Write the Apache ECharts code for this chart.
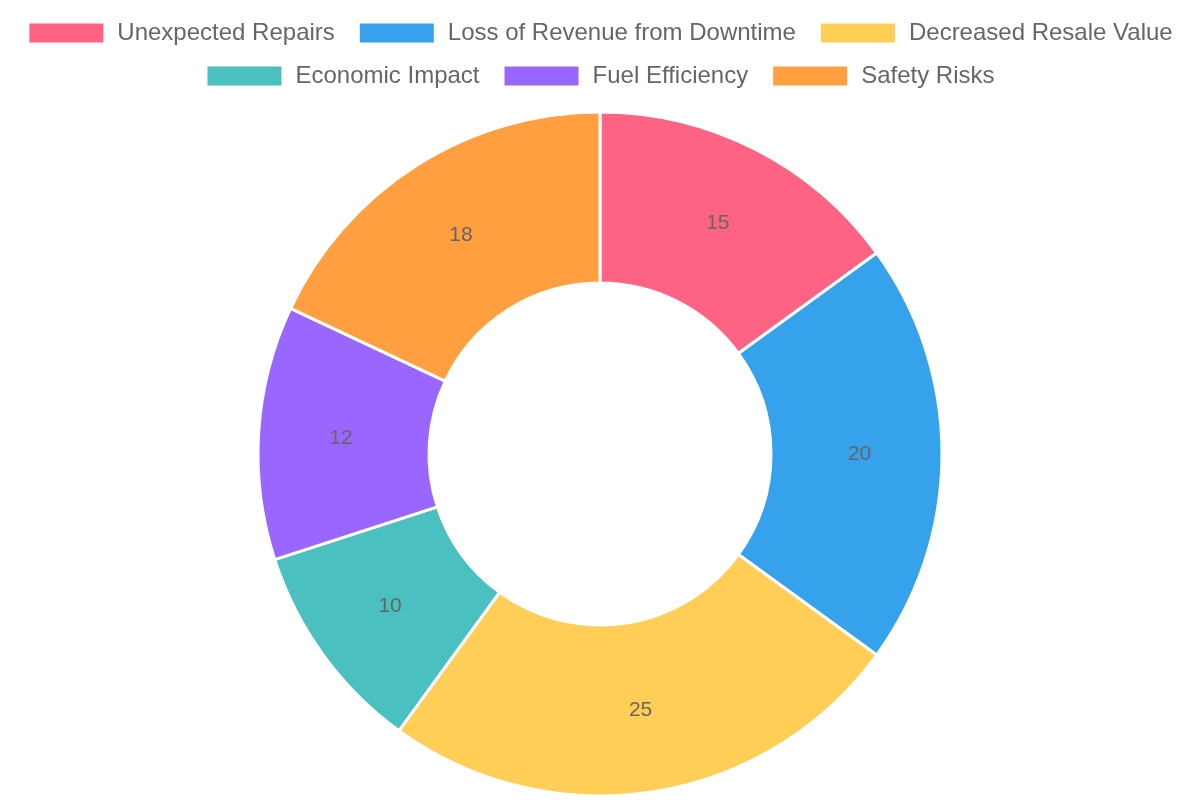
<!DOCTYPE html>
<html>
<head>
<meta charset="utf-8">
<script src="https://cdn.jsdelivr.net/npm/echarts@6/dist/echarts.min.js"></script>
<style>
  html, body { margin: 0; padding: 0; background: #fff; }
  #chart { width: 1200px; height: 800px; }
</style>
</head>
<body>
<div id="chart"></div>
<script>
const categories = ['Unexpected Repairs', 'Loss of Revenue from Downtime', 'Decreased Resale Value', 'Economic Impact', 'Fuel Efficiency', 'Safety Risks']
const values = [15, 20, 25, 10, 12, 18]
const colors = ['#FF6384', '#36A2EB', '#FFCE56', '#4BC0C0', '#9966FF', '#FF9F40']

const font = 'Liberation Sans, Helvetica, Arial, sans-serif'

const legendBase = {
  left: 'center',
  orient: 'horizontal',
  itemWidth: 76,
  itemHeight: 21,
  itemGap: 23,
  icon: 'rect',
  selectedMode: false,
  textStyle: { color: '#666', fontSize: 24, fontFamily: font, padding: [0, 0, 0, 8] }
}

const chart = echarts.init(document.getElementById('chart'))
chart.setOption({
  animation: false,
  color: colors,
  legend: [
    Object.assign({}, legendBase, { top: 16, data: categories.slice(0, 3) }),
    Object.assign({}, legendBase, { top: 59, data: categories.slice(3) })
  ],
  series: [
    {
      type: 'pie',
      center: [600, 454],
      radius: [171, 342],
      startAngle: 90,
      clockwise: true,
      avoidLabelOverlap: false,
      emphasis: { disabled: true },
      itemStyle: { borderColor: '#fff', borderWidth: 3 },
      label: {
        show: true,
        position: 'inside',
        formatter: '{c}',
        color: '#666',
        fontSize: 21,
        fontFamily: font
      },
      labelLine: { show: false },
      data: categories.map((name, i) => ({ name, value: values[i] }))
    }
  ]
})
</script>
</body>
</html>
